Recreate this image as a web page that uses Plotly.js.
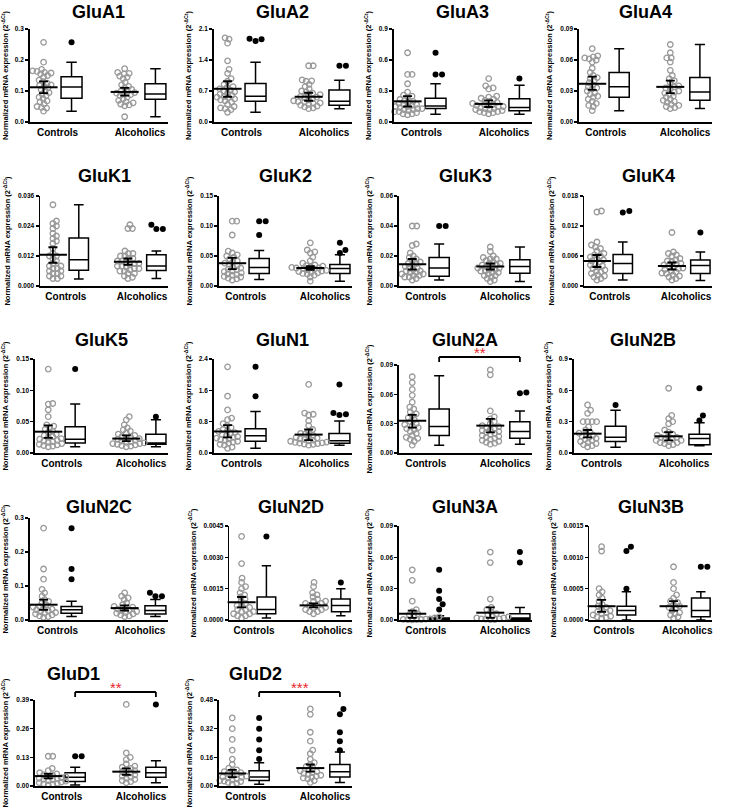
<!DOCTYPE html>
<html><head><meta charset="utf-8">
<script src="https://cdn.plot.ly/plotly-3.0.1.min.js"></script>
<style>html,body{margin:0;padding:0;background:#fff}#chart{width:730px;height:808px}</style>
</head><body><div id="chart"></div><script>
const genes = ['GluA1','GluA2','GluA3','GluA4','GluK1','GluK2','GluK3','GluK4','GluK5','GluN1','GluN2A','GluN2B','GluN2C','GluN2D','GluN3A','GluN3B','GluD1','GluD2'];
const groups = ['Controls','Alcoholics'];
const yMax  = [0.3,2.1,0.9,0.09,0.036,0.15,0.06,0.018,0.15,2.4,0.09,0.9,0.3,0.0045,0.09,0.0015,0.39,0.48];
const yStep = [0.1,0.7,0.3,0.03,0.012,0.05,0.02,0.006,0.05,0.8,0.03,0.3,0.1,0.0015,0.03,0.0005,0.13,0.16];
const tickDigits = [1,1,1,2,3,2,2,3,2,1,2,1,1,4,2,4,2,2];

const ctrlPoints = [
 [0.257,0.193,0.170,0.165,0.163,0.160,0.158,0.155,0.150,0.145,0.135,0.130,0.125,0.120,0.118,0.115,0.110,0.105,0.100,0.095,0.090,0.085,0.080,0.075,0.068,0.065,0.058,0.050,0.047,0.045,0.035],
 [1.90,1.87,1.78,1.38,1.19,1.10,0.98,0.92,0.85,0.80,0.78,0.75,0.72,0.70,0.68,0.65,0.63,0.60,0.58,0.56,0.55,0.52,0.50,0.48,0.45,0.40,0.35,0.32,0.30,0.28,0.22],
 [0.67,0.46,0.46,0.37,0.29,0.26,0.25,0.24,0.22,0.21,0.20,0.19,0.18,0.17,0.17,0.16,0.15,0.15,0.14,0.13,0.13,0.12,0.12,0.11,0.10,0.10,0.09,0.08,0.08,0.07],
 [0.071,0.064,0.063,0.062,0.061,0.060,0.058,0.052,0.048,0.045,0.043,0.042,0.040,0.038,0.036,0.034,0.033,0.032,0.030,0.028,0.027,0.025,0.024,0.022,0.020,0.018,0.016,0.015,0.011],
 [0.0325,0.026,0.025,0.024,0.023,0.021,0.020,0.019,0.018,0.017,0.015,0.013,0.012,0.012,0.011,0.010,0.009,0.008,0.008,0.007,0.007,0.006,0.006,0.005,0.005,0.004,0.004,0.003,0.003],
 [0.108,0.108,0.085,0.058,0.055,0.052,0.050,0.048,0.045,0.042,0.040,0.038,0.036,0.034,0.032,0.030,0.028,0.027,0.025,0.024,0.022,0.020,0.019,0.018,0.016,0.015,0.013,0.012,0.010],
 [0.040,0.040,0.028,0.027,0.022,0.020,0.019,0.018,0.017,0.016,0.015,0.015,0.014,0.013,0.012,0.012,0.011,0.010,0.010,0.009,0.009,0.008,0.008,0.007,0.007,0.006,0.006,0.005,0.004],
 [0.0150,0.0148,0.0088,0.0082,0.0078,0.0075,0.0070,0.0065,0.0062,0.0060,0.0058,0.0055,0.0052,0.0050,0.0048,0.0045,0.0042,0.0040,0.0038,0.0035,0.0032,0.0030,0.0028,0.0025,0.0022,0.0020,0.0018,0.0015,0.0012],
 [0.134,0.079,0.078,0.069,0.058,0.045,0.043,0.040,0.038,0.035,0.033,0.030,0.028,0.026,0.025,0.023,0.022,0.020,0.019,0.018,0.017,0.016,0.015,0.014,0.013,0.012,0.011,0.010],
 [2.2,1.45,1.1,0.89,0.85,0.75,0.70,0.65,0.60,0.58,0.55,0.52,0.50,0.48,0.45,0.42,0.40,0.38,0.36,0.34,0.32,0.30,0.28,0.25,0.22,0.20,0.15,0.12],
 [0.078,0.072,0.065,0.059,0.052,0.047,0.045,0.042,0.040,0.038,0.036,0.034,0.032,0.030,0.029,0.028,0.026,0.025,0.024,0.022,0.020,0.018,0.016,0.015,0.014,0.012,0.008],
 [0.46,0.41,0.38,0.30,0.30,0.30,0.30,0.25,0.22,0.20,0.19,0.18,0.17,0.16,0.15,0.14,0.13,0.12,0.11,0.10,0.09,0.08,0.07,0.06],
 [0.27,0.15,0.12,0.09,0.08,0.07,0.06,0.055,0.05,0.045,0.04,0.038,0.035,0.032,0.03,0.028,0.025,0.022,0.02,0.018,0.015,0.012,0.01,0.008],
 [0.0040,0.0027,0.0020,0.0018,0.0016,0.0015,0.0013,0.0012,0.0011,0.0010,0.0009,0.0008,0.0007,0.0007,0.0006,0.0005,0.0005,0.0004,0.0004,0.0003,0.0003,0.0002,0.0002,0.0001],
 [0.048,0.038,0.018,0.010,0.008,0.006,0.005,0.004,0.003,0.002,0.002,0.001,0.001,0.001,0.0008,0.0006,0.0005,0.0004,0.0003,0.0002],
 [0.00117,0.00110,0.00050,0.00045,0.00040,0.00035,0.00030,0.00025,0.00022,0.00020,0.00018,0.00015,0.00013,0.00012,0.00010,0.00008,0.00006,0.00005,0.00004,0.00003],
 [0.135,0.135,0.08,0.07,0.06,0.055,0.05,0.048,0.045,0.042,0.04,0.038,0.035,0.032,0.03,0.028,0.025,0.022,0.02,0.018,0.015,0.012,0.01,0.008,0.005],
 [0.38,0.32,0.26,0.2,0.15,0.12,0.1,0.09,0.085,0.08,0.075,0.07,0.065,0.06,0.055,0.05,0.048,0.045,0.04,0.035,0.03,0.028,0.025,0.02,0.015,0.01]
];
const alcPoints = [
 [0.172,0.160,0.157,0.155,0.148,0.145,0.140,0.128,0.120,0.115,0.110,0.105,0.100,0.098,0.095,0.093,0.090,0.088,0.085,0.080,0.075,0.070,0.065,0.062,0.058,0.055,0.052,0.017],
 [1.27,1.27,0.95,0.93,0.92,0.85,0.80,0.75,0.70,0.68,0.65,0.62,0.60,0.58,0.56,0.55,0.53,0.50,0.48,0.46,0.45,0.43,0.42,0.40,0.38,0.36,0.34,0.32,0.30],
 [0.42,0.35,0.33,0.32,0.25,0.24,0.23,0.22,0.21,0.20,0.19,0.18,0.17,0.17,0.16,0.16,0.15,0.15,0.14,0.13,0.13,0.12,0.12,0.11,0.10,0.10,0.09,0.09,0.08],
 [0.075,0.067,0.062,0.062,0.058,0.050,0.045,0.042,0.040,0.038,0.035,0.034,0.033,0.032,0.030,0.029,0.028,0.027,0.025,0.024,0.022,0.021,0.020,0.019,0.017,0.016,0.015,0.014,0.013],
 [0.0245,0.023,0.023,0.014,0.013,0.013,0.012,0.012,0.011,0.011,0.010,0.010,0.0095,0.009,0.009,0.0085,0.008,0.008,0.0075,0.007,0.007,0.0065,0.006,0.006,0.005,0.005,0.004,0.003,0.0035],
 [0.072,0.060,0.057,0.055,0.048,0.042,0.038,0.035,0.034,0.033,0.032,0.031,0.030,0.030,0.029,0.028,0.027,0.026,0.025,0.024,0.023,0.022,0.021,0.020,0.018,0.015,0.008],
 [0.026,0.023,0.020,0.019,0.018,0.018,0.017,0.016,0.015,0.015,0.014,0.014,0.013,0.013,0.012,0.012,0.011,0.011,0.010,0.010,0.009,0.009,0.008,0.007,0.007,0.006,0.005,0.004,0.003],
 [0.0107,0.0068,0.0065,0.0062,0.0060,0.0055,0.0052,0.0050,0.0048,0.0045,0.0043,0.0042,0.0040,0.0038,0.0036,0.0035,0.0033,0.0030,0.0028,0.0026,0.0025,0.0022,0.0020,0.0018,0.0015,0.0012],
 [0.058,0.053,0.045,0.040,0.037,0.035,0.032,0.030,0.028,0.026,0.025,0.024,0.023,0.022,0.020,0.019,0.018,0.017,0.016,0.015,0.015,0.014,0.013,0.012,0.011,0.010],
 [1.75,1.02,0.99,0.97,0.82,0.70,0.60,0.55,0.50,0.48,0.45,0.42,0.40,0.38,0.36,0.35,0.33,0.31,0.30,0.28,0.27,0.26,0.25,0.24,0.23,0.22,0.20],
 [0.093,0.085,0.080,0.043,0.037,0.035,0.032,0.030,0.028,0.027,0.026,0.025,0.024,0.023,0.022,0.021,0.020,0.019,0.018,0.017,0.016,0.015,0.014,0.013,0.012,0.011,0.010,0.009],
 [0.62,0.36,0.33,0.30,0.28,0.22,0.20,0.18,0.17,0.16,0.15,0.15,0.14,0.13,0.12,0.12,0.11,0.10,0.10,0.09,0.08,0.07],
 [0.08,0.07,0.065,0.06,0.05,0.045,0.04,0.038,0.035,0.032,0.03,0.028,0.025,0.022,0.02,0.018,0.015,0.012,0.01],
 [0.0018,0.0016,0.0013,0.0012,0.0011,0.0010,0.0009,0.0009,0.0008,0.0008,0.0007,0.0007,0.0006,0.0006,0.0005,0.0005,0.0004,0.0004,0.0003],
 [0.065,0.055,0.020,0.012,0.010,0.008,0.006,0.005,0.004,0.003,0.002,0.002,0.001,0.001,0.0008,0.0005,0.0003],
 [0.00085,0.00060,0.00050,0.00040,0.00035,0.00030,0.00028,0.00025,0.00022,0.00020,0.00018,0.00015,0.00012,0.00010,0.00008,0.00005,0.00003],
 [0.37,0.15,0.13,0.12,0.1,0.09,0.085,0.08,0.075,0.07,0.065,0.06,0.055,0.05,0.045,0.04,0.035,0.03,0.025,0.02,0.015],
 [0.43,0.40,0.30,0.25,0.2,0.18,0.15,0.13,0.12,0.11,0.1,0.09,0.085,0.08,0.075,0.07,0.065,0.06,0.055,0.05,0.045,0.04,0.03,0.02]
];
const ctrlMean = [0.112,0.75,0.20,0.037,0.0125,0.038,0.0145,0.0050,0.034,0.55,0.033,0.185,0.045,0.00085,0.006,0.00022,0.045,0.07];
const ctrlLow  = [0.093,0.57,0.15,0.031,0.0093,0.028,0.011,0.0038,0.024,0.40,0.026,0.15,0.03,0.0006,0.002,0.00013,0.035,0.05];
const ctrlHigh = [0.131,0.92,0.25,0.044,0.0155,0.047,0.018,0.0062,0.044,0.71,0.039,0.22,0.06,0.0011,0.009,0.00032,0.055,0.09];
const alcMean  = [0.097,0.57,0.175,0.034,0.0097,0.030,0.013,0.0040,0.023,0.47,0.028,0.16,0.035,0.0007,0.007,0.00022,0.065,0.10];
const alcLow   = [0.085,0.48,0.145,0.028,0.0085,0.027,0.011,0.0033,0.019,0.33,0.021,0.12,0.028,0.0006,0.002,0.00015,0.05,0.08];
const alcHigh  = [0.110,0.66,0.21,0.040,0.011,0.033,0.015,0.0047,0.028,0.60,0.035,0.20,0.043,0.0008,0.012,0.0003,0.08,0.12];
// [lower whisker, Q1, median, Q3, upper whisker]
const ctrlBox = [
 [0.035,0.077,0.113,0.146,0.193],[0.22,0.47,0.58,0.87,1.35],[0.075,0.13,0.155,0.23,0.37],[0.011,0.024,0.034,0.048,0.071],
 [0.0028,0.0063,0.0105,0.0192,0.0325],[0.011,0.021,0.031,0.046,0.059],[0.004,0.0065,0.012,0.019,0.028],[0.0012,0.0025,0.0045,0.0063,0.0088],
 [0.010,0.016,0.022,0.042,0.078],[0.12,0.30,0.44,0.62,1.06],[0.008,0.018,0.027,0.045,0.079],[0.055,0.11,0.15,0.255,0.41],
 [0.01,0.02,0.03,0.04,0.055],[0.0001,0.0003,0.0005,0.0011,0.0026],[0,0.0005,0.001,0.002,0.004],[0,0.00008,0.00015,0.00022,0.00045],
 [0.005,0.02,0.04,0.06,0.085],[0.01,0.03,0.05,0.085,0.13]
];
const alcBox = [
 [0.017,0.073,0.090,0.123,0.172],[0.30,0.38,0.47,0.72,0.94],[0.075,0.11,0.14,0.225,0.355],[0.013,0.021,0.029,0.043,0.075],
 [0.003,0.0062,0.008,0.0125,0.014],[0.008,0.021,0.029,0.036,0.052],[0.003,0.0085,0.013,0.0175,0.026],[0.0011,0.0025,0.0041,0.0052,0.0068],
 [0.010,0.014,0.016,0.030,0.053],[0.20,0.25,0.31,0.50,0.82],[0.009,0.015,0.022,0.032,0.043],[0.07,0.08,0.14,0.18,0.29],
 [0.01,0.018,0.028,0.042,0.06],[0.0002,0.0004,0.0007,0.001,0.0015],[0,0.0005,0.002,0.006,0.012],[0,0.00005,0.00015,0.00035,0.00045],
 [0.015,0.04,0.06,0.085,0.115],[0.02,0.05,0.08,0.12,0.19]
];
const ctrlOutliers = [[0.257],[1.88,1.83,1.87],[0.67,0.46,0.46],[],[],[0.108,0.108,0.085],[0.040,0.040],[0.0147,0.0150],[0.134],[2.2,1.45],[],[0.46],[0.27,0.15,0.12],[0.004],[0.048,0.028,0.02,0.015,0.01],[0.00117,0.0011,0.0005],[0.135,0.135],[0.38,0.32,0.26,0.2,0.15]];
const alcOutliers  = [[],[1.27,1.27],[0.42],[],[0.0245,0.0228,0.0228],[0.072,0.060,0.055],[],[0.0107],[0.058],[1.75,1.02,0.99,0.97],[0.093,0.062,0.061],[0.62,0.36,0.31],[0.08,0.07,0.07],[0.0018],[0.065,0.055],[0.00085,0.00085],[0.37],[0.43,0.40,0.30,0.25,0.2]];
const sigGenes = ['GluN2A','GluD1','GluD2'];
const sigStars = ['**','**','***'];

// ---------- layout constants ----------
const W = 730, H = 808;
const colLeft = [0,184,364,544];
const rowTop = [29,196,359,526,694];
const rowBottom = [122,286,453,620,786];
const rowTitle = [12,176,340,507,674];
const topAdjust = {GluN2C:-8, GluN2A:6, GluD1:6, GluD2:6};
const titleShift = {GluD1:-28, GluD2:-30};
const XC = 0, XCB = 1, XA = 2.9, XAB = 4, XMIN = -0.5, XMAX = 4.45;
const FONT = 'Liberation Sans, Arial, sans-serif';

function swarm(vals, pxY, diam) {
  const idx = vals.map((v,i)=>i).sort((a,b)=>vals[a]-vals[b]);
  const placed = [], off = new Array(vals.length).fill(0);
  for (const i of idx) {
    const y = vals[i]*pxY;
    let chosen = 0;
    for (let k=0;k<200;k++){
      const cands = k===0?[0]:[k*0.5,-k*0.5];
      let ok=null;
      for (const c of cands){
        if (placed.every(p=>Math.hypot(p.x-c,p.y-y)>=diam)) {ok=c;break;}
      }
      if (ok!==null){chosen=ok;break;}
    }
    placed.push({x:chosen,y:y}); off[i]=chosen;
  }
  return off;
}

const traces = [], annotations = [], shapes = [], layout = {
  width: W, height: H, margin:{l:0,r:0,t:0,b:0}, showlegend:false,
  paper_bgcolor:'#fff', plot_bgcolor:'#fff', font:{family:FONT,color:'#000'}
};

genes.forEach((g,i)=>{
  const r = Math.floor(i/4), c = i%4, k = i+1;
  const xa = 'x'+k, ya = 'y'+k;
  const label = yMax[i].toFixed(tickDigits[i]);
  const axisX = colLeft[c] + 14 + 5.2*label.length;
  const right = colLeft[c] + 168;
  const top = rowTop[r] + (topAdjust[g]||0), bot = rowBottom[r];
  const pxX = (right-axisX)/(XMAX-XMIN);
  const pxY = (bot-top)/yMax[i];
  const tv = []; for (let t=0; t<=yMax[i]*1.0001; t+=yStep[i]) tv.push(+t.toFixed(8));
  layout['xaxis'+k] = {domain:[axisX/W, right/W], anchor:ya, range:[XMIN,XMAX], showgrid:false, zeroline:false,
    showline:true, linecolor:'#000', linewidth:1.5, ticks:'', tickvals:[(XC+XCB)/2,(XA+XAB)/2], ticktext:groups,
    tickfont:{size:10, weight:'bold', family:FONT}, fixedrange:true};
  layout['yaxis'+k] = {domain:[1-bot/H, 1-top/H], anchor:xa, range:[0,yMax[i]], showgrid:false, zeroline:false,
    showline:true, linecolor:'#000', linewidth:1.5, ticks:'outside', ticklen:3, tickwidth:1.2, tickcolor:'#000',
    tickvals:tv, tickformat:'.'+tickDigits[i]+'f', tickfont:{size:6.5, weight:'bold', family:FONT},
    title:{text:'Normalized mRNA expression (2<sup>-ΔCt</sup>)', font:{size:7.5, weight:'bold', family:FONT}, standoff:6},
    fixedrange:true};
  annotations.push({xref:'paper', yref:'paper', x:((axisX+right)/2 + (titleShift[g]||0))/W, y:1-rowTitle[r]/H, text:g, showarrow:false,
    font:{size:18, weight:'bold', family:FONT}, xanchor:'center', yanchor:'middle'});

  const so = swarm(ctrlPoints[i], pxY, 4.2), sa = swarm(alcPoints[i], pxY, 4.2);
  const ptsStyle = {symbol:'circle-open', size:5.5, color:'#999', line:{width:1.3, color:'#999'}};
  traces.push({type:'scatter', mode:'markers', xaxis:xa, yaxis:ya, x:so.map(o=>XC+o/pxX), y:ctrlPoints[i], marker:ptsStyle, cliponaxis:false, hoverinfo:'skip'});
  traces.push({type:'scatter', mode:'markers', xaxis:xa, yaxis:ya, x:sa.map(o=>XA+o/pxX), y:alcPoints[i], marker:ptsStyle, cliponaxis:false, hoverinfo:'skip'});
  traces.push({type:'box', xaxis:xa, yaxis:ya, x:[XCB,XAB], q1:[ctrlBox[i][1],alcBox[i][1]], median:[ctrlBox[i][2],alcBox[i][2]],
    q3:[ctrlBox[i][3],alcBox[i][3]], lowerfence:[ctrlBox[i][0],alcBox[i][0]], upperfence:[ctrlBox[i][4],alcBox[i][4]],
    width:0.75, whiskerwidth:0.5, fillcolor:'#fff', line:{color:'#000', width:1.5}, boxpoints:false, hoverinfo:'skip'});
  traces.push({type:'scatter', mode:'markers', xaxis:xa, yaxis:ya, x:[XC,XA], y:[ctrlMean[i],alcMean[i]],
    marker:{symbol:'line-ew', size:20, color:'#000', line:{width:2, color:'#000'}},
    error_y:{type:'data', symmetric:false, array:[ctrlHigh[i]-ctrlMean[i], alcHigh[i]-alcMean[i]],
      arrayminus:[ctrlMean[i]-ctrlLow[i], alcMean[i]-alcLow[i]], color:'#000', thickness:1.8, width:4.5},
    cliponaxis:false, hoverinfo:'skip'});
  const oc = swarm(ctrlOutliers[i], pxY, 6.2), oa = swarm(alcOutliers[i], pxY, 6.2);
  const outStyle = {symbol:'circle', size:6, color:'#000'};
  traces.push({type:'scatter', mode:'markers', xaxis:xa, yaxis:ya, x:oc.map(o=>XCB+o/pxX).concat(oa.map(o=>XAB+o/pxX)),
    y:ctrlOutliers[i].concat(alcOutliers[i]), marker:outStyle, cliponaxis:false, hoverinfo:'skip'});

  const s = sigGenes.indexOf(g);
  if (s>=0) {
    const h = bot-top, yb = 1 + 8/h, yt = 1 + 3/h;
    const ref = {xref:xa, yref:ya+' domain', line:{color:'#000', width:1.8}};
    shapes.push(Object.assign({type:'line', x0:XCB, x1:XAB, y0:yb, y1:yb}, ref));
    shapes.push(Object.assign({type:'line', x0:XCB, x1:XCB, y0:yb, y1:yt}, ref));
    shapes.push(Object.assign({type:'line', x0:XAB, x1:XAB, y0:yb, y1:yt}, ref));
    annotations.push({xref:xa, yref:ya+' domain', x:(XCB+XAB)/2, y:yb, text:sigStars[s], showarrow:false,
      yanchor:'bottom', yshift:-6, font:{size:15, color:'#e8262c', family:FONT}});
  }
});
layout.annotations = annotations; layout.shapes = shapes;
Plotly.newPlot('chart', traces, layout, {staticPlot:true, displayModeBar:false});
</script></body></html>
